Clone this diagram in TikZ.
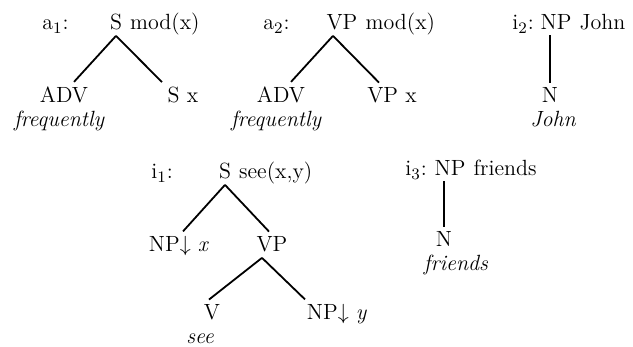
\documentclass[tikz,border=0pt]{standalone}
\begin{document}
\begin{tikzpicture}[
    x=0.5pt, y=-0.5pt,
    every node/.style={font=\fontsize{11}{13}\selectfont, inner sep=2.5pt, anchor=base},
    lex/.style={font=\fontsize{11}{13}\selectfont\itshape},
    tag/.style={anchor=base west},
    sem/.style={anchor=base west, inner sep=0pt},
    branch/.style={line width=0.9pt},
  ]
    \useasboundingbox (0,0) rectangle (633,347);

    % Baselines of the rows (px from the top)
    \def\rA{30}
    \def\rB{103}
    \def\rBl{127}
    \def\rC{179}
    \def\rD{252}
    \def\rE{320}
    \def\rEl{344}

    % a1: S mod(x)
    \node[tag] (a1tag) at (37,\rA) {a$_1$:};
    \node (a1S) at (116,\rA) {S};
    \node[sem] (a1sem) at ([xshift=1.2pt]a1S.base east) {mod(x)};
    \node (a1adv) at (64,\rB) {ADV};
    \node (a1Sx) at (183,\rB) {S x};
    \node[lex] (a1frq) at (59,\rBl) {frequently};
    \draw[branch] (a1S.south) -- ([xshift=5pt]a1adv.north);
    \draw[branch] (a1S.south) -- ([xshift=-10.5pt]a1Sx.north);

    % a2: VP mod(x)
    \node[tag] (a2tag) at (258,\rA) {a$_2$:};
    \node (a2VP) at (342,\rA) {VP};
    \node[sem] (a2sem) at ([xshift=1.2pt]a2VP.base east) {mod(x)};
    \node (a2adv) at (281,\rB) {ADV};
    \node (a2VPx) at (392,\rB) {VP x};
    \node[lex] (a2frq) at (276,\rBl) {frequently};
    \draw[branch] ([xshift=-4.5pt]a2VP.south) -- ([xshift=5pt]a2adv.north);
    \draw[branch] ([xshift=-4.5pt]a2VP.south) -- ([xshift=-6.5pt]a2VPx.north);

    % i2: NP John
    \node[tag] (i2tag) at (507,\rA) {i$_2$:};
    \node (i2NP) at (556,\rA) {NP};
    \node[sem] (i2sem) at ([xshift=1.2pt]i2NP.base east) {John};
    \node (i2N) at (550,\rB) {N};
    \node[lex] (i2lex) at (553,\rBl) {John};
    \draw[branch] (i2NP.south -| i2N.north) -- (i2N.north);

    % i1: S see(x,y)
    \node[tag] (i1tag) at (146,\rC) {i$_1$:};
    \node (i1S) at (225,\rC) {S};
    \node[sem] (i1sem) at ([xshift=1.2pt]i1S.base east) {see(x,y)};
    \node (i1NPx) at (179,\rD) {NP$\downarrow$ \textit{x}};
    \node (i1VP) at (272,\rD) {VP};
    \node (i1V) at (212,\rE) {V};
    \node (i1NPy) at (337,\rE) {NP$\downarrow$ \textit{y}};
    \node[lex] (i1see) at (200,\rEl) {see};
    \draw[branch] (i1S.south) -- ([xshift=2pt]i1NPx.north);
    \draw[branch] (i1S.south) -- ([xshift=-1.5pt]i1VP.north);
    \draw[branch] ([xshift=-5pt]i1VP.south) -- ([xshift=-1.5pt]i1V.north);
    \draw[branch] ([xshift=-5pt]i1VP.south) -- ([xshift=-16pt]i1NPy.north);

    % i3: NP friends
    \node[tag] (i3tag) at (400,176) {i$_3$:};
    \node (i3NP) at (450,176) {NP};
    \node[sem] (i3sem) at ([xshift=1.2pt]i3NP.base east) {friends};
    \node (i3N) at (444,247) {N};
    \node[lex] (i3lex) at (456,271) {friends};
    \draw[branch] (i3NP.south -| i3N.north) -- (i3N.north);

  \end{tikzpicture}
\end{document}
